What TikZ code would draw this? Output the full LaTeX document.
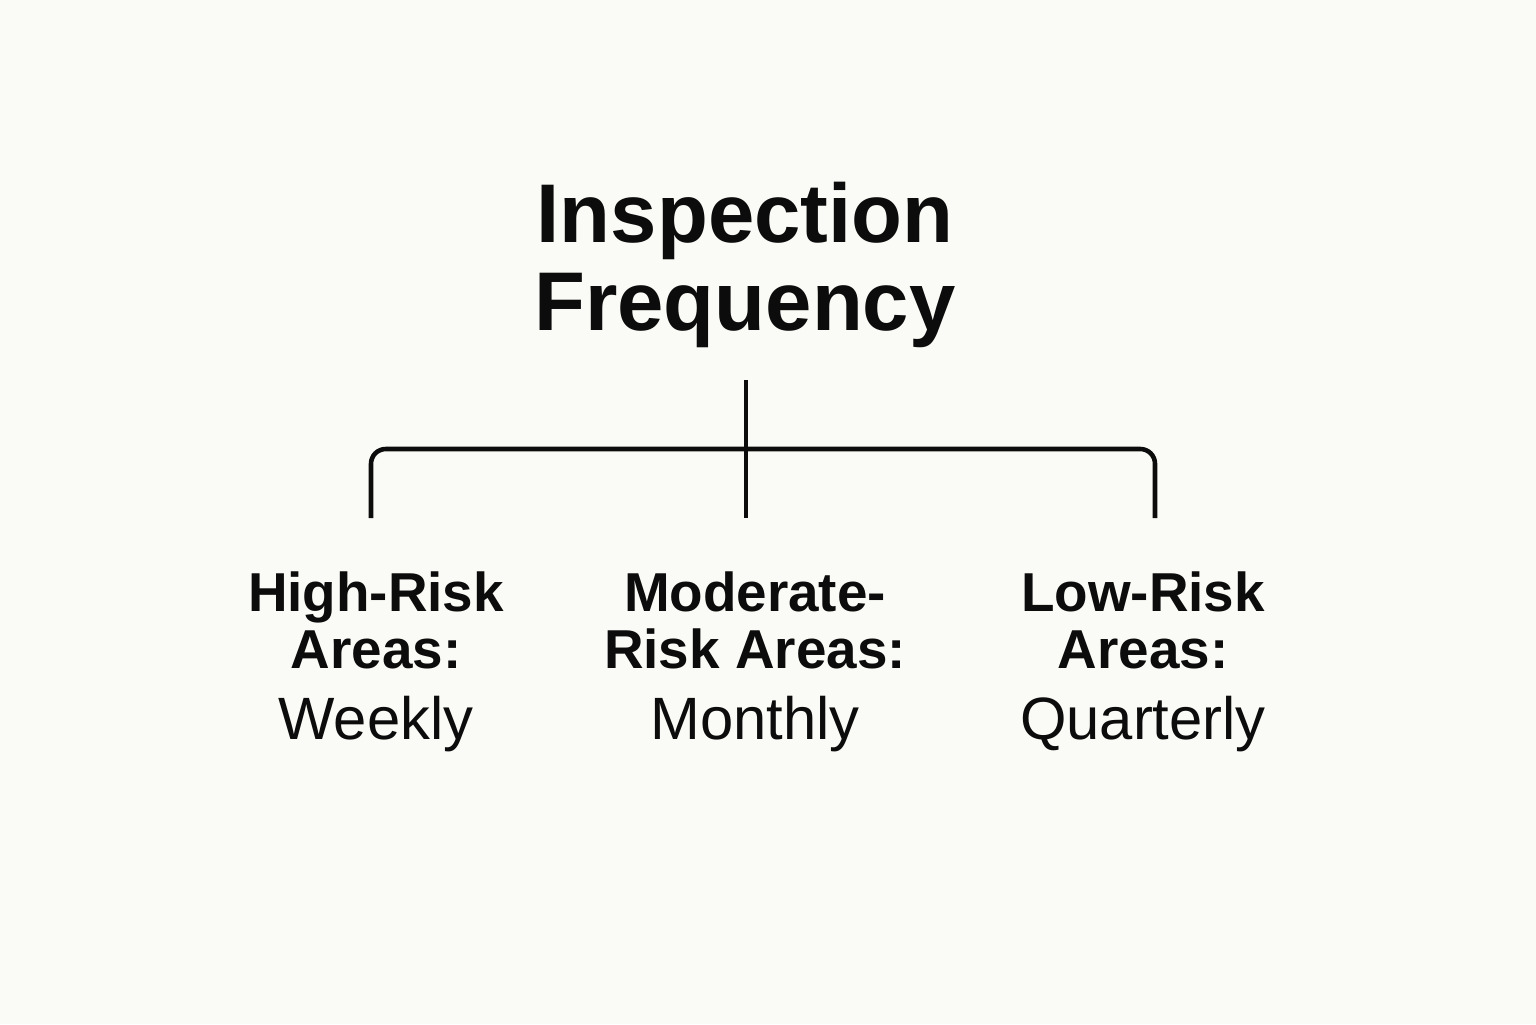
\documentclass[tikz,border=0pt]{standalone}
\usepackage{fontspec}
\setmainfont{Liberation Sans}
\usepackage{tikz}
\usetikzlibrary{positioning}
\definecolor{paper}{RGB}{250,250,246}
\definecolor{ink}{RGB}{12,12,12}

\begin{document}
\begin{tikzpicture}[
        heading/.style={align=center,inner sep=0pt,text=ink,font=\fontsize{23.7}{25}\selectfont\bfseries},
        area/.style={align=center,inner sep=0pt,text=ink,font=\fontsize{15.6}{16.4}\selectfont},
        branch/.style={draw=ink,line width=1.3pt,rounded corners=4.2pt}
    ]
        \fill[paper] (0,0) rectangle (15.36,10.24);
        \useasboundingbox (0,0) rectangle (15.36,10.24);
        \node[heading] (title) at (7.45,7.59) {Inspection\\Frequency};
        \node[area] (moderate) at (7.55,3.62) {\textbf{Moderate-}\\\textbf{Risk Areas:}\\[3.8pt]\fontsize{17}{18}\selectfont Monthly};
        \node[area] (high) at (3.76,3.62) {\textbf{High-Risk}\\\textbf{Areas:}\\[3.8pt]\fontsize{17}{18}\selectfont Weekly};
        \node[area] (low) at (11.43,3.62) {\textbf{Low-Risk}\\\textbf{Areas:}\\[3.8pt]\fontsize{17}{18}\selectfont Quarterly};
        \coordinate (stem) at (7.46,6.44);
        \coordinate (hub) at (7.46,5.75);
        \coordinate (highend) at (3.71,5.06);
        \coordinate (midend) at (7.46,5.06);
        \coordinate (lowend) at (11.55,5.06);
        \draw[branch] (stem) -- (midend);
        \draw[branch] (highend) |- (hub) -| (lowend);
    \end{tikzpicture}
\end{document}
